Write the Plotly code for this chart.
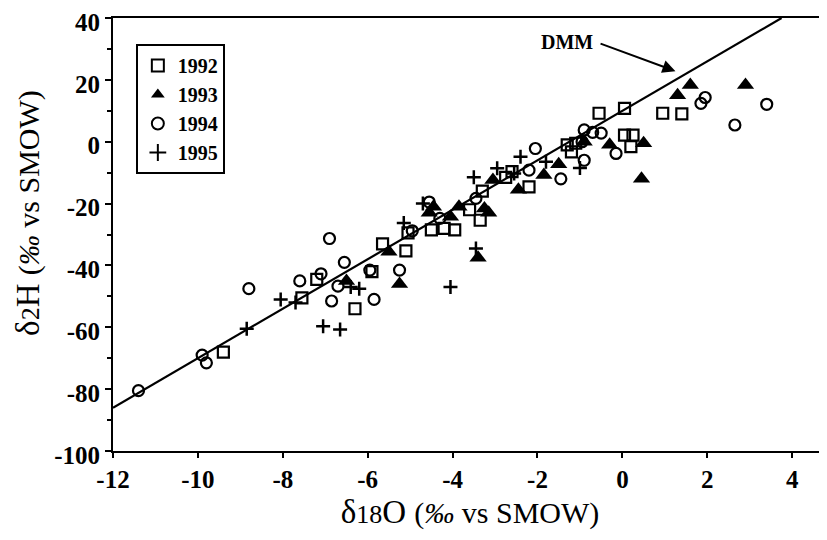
import plotly.graph_objects as go

# ---- data ----
x1992 = [-9.4, -7.55, -7.2, -6.3, -5.9, -5.65, -5.1, -5.05, -4.5, -4.2, -3.95, -3.6, -3.3, -3.35,
         -2.75, -2.6, -2.2, -1.3, -1.1, -1.2, -0.55, 0.05, 0.05, 0.25, 0.2, 0.95, 1.4]
y1992 = [-68, -50.5, -44.5, -54, -42, -33, -35.3, -29.5, -28.5, -28, -28.5, -22, -16, -25.4,
         -11.5, -9.7, -14.6, -1, -0.5, -3.3, 9.2, 10.8, 2.1, 2.1, -1.6, 9.2, 9]

x1993 = [-6.5, -5.5, -5.25, -4.55, -4.45, -4.05, -3.85, -3.25, -3.15, -3.05, -3.4, -2.45, -1.85,
         -1.5, -0.9, -0.3, 0.5, 0.45, 1.3, 1.6, 2.9]
y1993 = [-45, -35.6, -46, -23, -21, -24.3, -21, -21.6, -23, -12.4, -37.5, -15.5, -10.8,
         -7.3, 0, -1, -0.5, -12, 15, 18.3, 18.3]

x1994 = [-11.4, -9.9, -9.8, -8.8, -7.6, -7.1, -6.9, -6.85, -6.55, -6.7, -5.85, -5.25, -5.95,
         -4.95, -4.55, -4.3, -3.45, -2.05, -2.2, -1.45, -0.95, -0.9, -0.9, -0.7, -0.5, -0.15,
         1.85, 1.95, 2.65, 3.4]
y1994 = [-80.5, -69, -71.5, -47.5, -45, -42.7, -31.3, -51.5, -39, -46.7, -51, -41.5, -41.5,
         -28.8, -19.5, -24.8, -18.3, -2.2, -9.2, -12, 0, -6, 3.8, 3, 2.8, -3.8,
         12.4, 14.3, 5.4, 12.1]

x1995 = [-8.85, -8.05, -7.7, -6.4, -6.2, -7.05, -6.65, -5.15, -4.7, -3.5, -3.45, -4.05, -2.4,
         -2.55, -2.95, -1.8, -1.0]
y1995 = [-60.5, -51, -52, -47, -47.5, -59.7, -60.7, -26.3, -20, -11.5, -34.5, -47, -4.9,
         -10.3, -8.6, -6.5, -8.5]

dmm_x = [-12, 3.75]
dmm_y = [-86, 40]

x_ticks = [-12, -10, -8, -6, -4, -2, 0, 2, 4]
y_ticks = [40, 20, 0, -20, -40, -60, -80, -100]

serif = "Liberation Serif"
black = "#000000"

fig = go.Figure()

fig.add_trace(go.Scatter(x=dmm_x, y=dmm_y, mode="lines", line=dict(color=black, width=2.2),
                         showlegend=False, hoverinfo="skip"))

fig.add_trace(go.Scatter(x=x1992, y=y1992, mode="markers", name="<b>1992</b>",
                         marker=dict(symbol="square-open", size=11, color=black,
                                     line=dict(width=2.2, color=black))))
fig.add_trace(go.Scatter(x=x1993, y=y1993, mode="markers", name="<b>1993</b>",
                         marker=dict(symbol="triangle-up", size=15, color=black,
                                     line=dict(width=0))))
fig.add_trace(go.Scatter(x=x1994, y=y1994, mode="markers", name="<b>1994</b>",
                         marker=dict(symbol="circle-open", size=11, color=black,
                                     line=dict(width=2.2, color=black))))
fig.add_trace(go.Scatter(x=x1995, y=y1995, mode="markers", name="<b>1995</b>",
                         marker=dict(symbol="cross-thin-open", size=10, color=black,
                                     line=dict(width=2.5, color=black))))

fig.add_annotation(x=1.25, y=22.8, ax=-0.55, ay=31.9, xref="x", yref="y", axref="x", ayref="y",
                   text="", showarrow=True, arrowhead=2, arrowsize=1.3, arrowwidth=2,
                   arrowcolor=black)
fig.add_annotation(x=-0.65, y=32.3, xref="x", yref="y", text="<b>DMM</b>", showarrow=False,
                   xanchor="right", font=dict(family=serif, size=20, color=black))

# y-axis title (placed as annotation to match reference position)
fig.add_annotation(xref="paper", yref="paper", x=-0.119, y=0.55, textangle=-90,
                   text="δ<span style='font-size:26px'>2</span>H <span style='font-size:30px'>(<i>‰</i> vs SMOW)</span>",
                   showarrow=False, xanchor="center", yanchor="middle",
                   font=dict(family=serif, size=33, color=black))

fig.update_layout(
    width=819, height=532,
    margin=dict(l=105, r=0, t=10, b=89),
    paper_bgcolor="white", plot_bgcolor="white",
    font=dict(family=serif, color=black),
    legend=dict(x=0.032, y=0.94, xanchor="left", yanchor="top",
                bordercolor=black, borderwidth=2, bgcolor="white",
                font=dict(family=serif, size=20, color=black),
                itemsizing="constant", tracegroupgap=0, itemwidth=30),
    xaxis=dict(range=[-12, 4.82], tickvals=x_ticks, ticktext=[f"<b>{v}</b>" for v in x_ticks],
               automargin=False, ticklabeloverflow="allow",
               showgrid=False, zeroline=False, showline=True, linecolor=black, linewidth=2,
               mirror=True, ticks="outside", ticklen=5, tickwidth=2, tickcolor=black,
               tickfont=dict(family=serif, size=25, color=black),
               title=dict(text="δ<span style='font-size:26px'>18</span>O <span style='font-size:30px'>(<i>‰</i> vs SMOW)</span>",
                          font=dict(family=serif, size=33, color=black), standoff=8)),
    yaxis=dict(range=[-100, 40], tickvals=y_ticks, ticktext=[f"<b>{v}</b>" for v in y_ticks],
               automargin=False, ticklabeloverflow="allow", ticklabelshift=4,
               showgrid=False, zeroline=False, showline=True, linecolor=black, linewidth=2,
               ticks="outside", ticklen=6, tickwidth=2, tickcolor=black,
               minor=dict(dtick=10, ticks="outside", ticklen=4, tickwidth=1.5, tickcolor=black),
               tickfont=dict(family=serif, size=25, color=black)),
)

fig.write_html("out.html")
